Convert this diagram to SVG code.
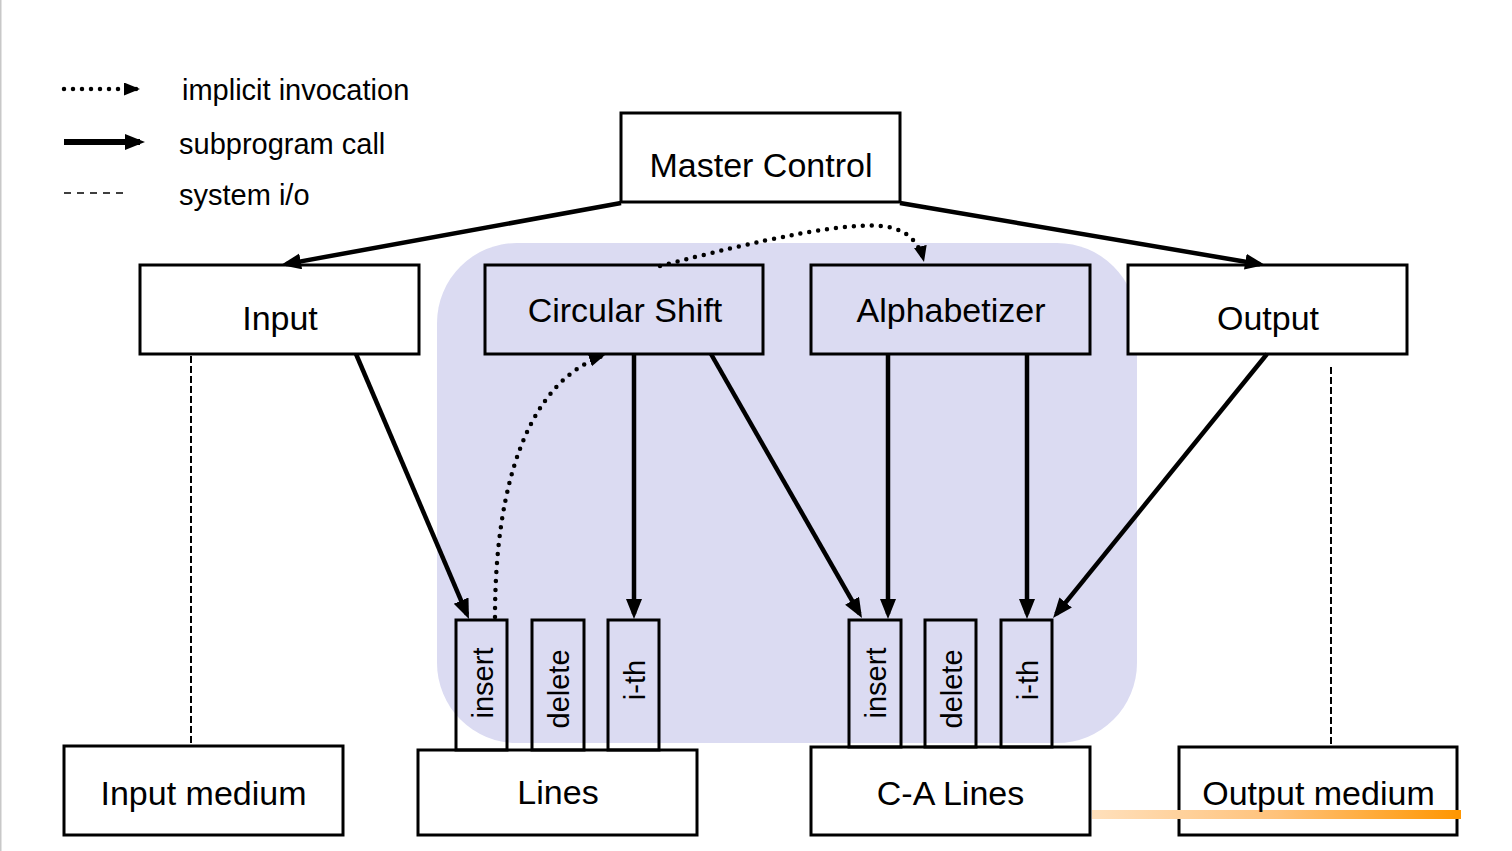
<svg xmlns="http://www.w3.org/2000/svg" width="1512" height="851" viewBox="0 0 1512 851">
<style>
.box{fill:#fff;stroke:#000;stroke-width:3}
.tbox{fill:none;stroke:#000;stroke-width:3}
.lbl{font-family:"Liberation Sans",Arial,sans-serif;font-size:34px;fill:#000;text-anchor:middle}
.rot{font-family:"Liberation Sans",Arial,sans-serif;font-size:29px;fill:#000;text-anchor:middle}
.leg{font-family:"Liberation Sans",Arial,sans-serif;font-size:29px;fill:#000}
.call{fill:none;stroke:#000;stroke-width:4.5;marker-end:url(#ah)}
.impl{fill:none;stroke:#000;stroke-width:4.5;stroke-linecap:round;stroke-dasharray:0 9;marker-end:url(#dh)}
.io{fill:none;stroke:#000;stroke-width:2;stroke-dasharray:7 3}
</style>
<defs>
<marker id="ah" markerUnits="userSpaceOnUse" markerWidth="22" markerHeight="18" refX="15" refY="8" orient="auto">
<path d="M0,0 L20,8 L0,16 z" fill="#000"/>
</marker>
<marker id="dh" markerUnits="userSpaceOnUse" markerWidth="18" markerHeight="15" refX="16" refY="6.5" orient="auto">
<path d="M0,0 L16,6.5 L0,13 z" fill="#000"/>
</marker>
<linearGradient id="og" x1="0" y1="0" x2="1" y2="0">
<stop offset="0" stop-color="#ffe0bc"/>
<stop offset="0.5" stop-color="#ffc27a"/>
<stop offset="1" stop-color="#ff9600"/>
</linearGradient>
</defs>
<rect x="0" y="0" width="1512" height="851" fill="#fff"/>
<rect x="0" y="0" width="1.5" height="851" fill="#c8c8c8"/>
<g id="legend">
<path d="M64,89 L140,89" class="impl"/>
<text x="182" y="100" class="leg">implicit invocation</text>
<path d="M64,142 L140,142" fill="none" stroke="#000" stroke-width="6" marker-end="url(#ah)"/>
<text x="179" y="154" class="leg">subprogram call</text>
<path d="M64,193 L128,193" fill="none" stroke="#000" stroke-width="1.5" stroke-dasharray="7 6"/>
<text x="179" y="205" class="leg">system i/o</text>
</g>
<g id="shared-region">
<rect x="437" y="243" width="700" height="500" rx="80" ry="80" fill="#dbdbf2"/>
</g>
<g id="master-control">
<rect x="621" y="113" width="279" height="89" class="box"/>
<text x="761" y="177" class="lbl">Master Control</text>
</g>
<g id="input">
<rect x="140" y="265" width="279" height="89" class="box"/>
<text x="280" y="330" class="lbl">Input</text>
</g>
<g id="circular-shift">
<rect x="485" y="265" width="278" height="89" class="tbox"/>
<text x="625" y="322" class="lbl">Circular Shift</text>
</g>
<g id="alphabetizer">
<rect x="811" y="265" width="279" height="89" class="tbox"/>
<text x="951" y="322" class="lbl">Alphabetizer</text>
</g>
<g id="output">
<rect x="1128" y="265" width="279" height="89" class="box"/>
<text x="1268" y="330" class="lbl">Output</text>
</g>
<g id="input-medium">
<rect x="64" y="746" width="279" height="89" class="box"/>
<text x="203.5" y="805" class="lbl">Input medium</text>
</g>
<g id="lines">
<rect x="418" y="750" width="279" height="85" class="box"/>
<text x="558" y="804" class="lbl">Lines</text>
</g>
<g id="lines-insert">
<rect x="456" y="620" width="51" height="130" class="tbox"/>
<text transform="translate(493,683) rotate(-90)" class="rot">insert</text>
</g>
<g id="lines-delete">
<rect x="532" y="620" width="52" height="130" class="tbox"/>
<text transform="translate(569,689) rotate(-90)" class="rot">delete</text>
</g>
<g id="lines-ith">
<rect x="608" y="620" width="51" height="130" class="tbox"/>
<text transform="translate(645,680) rotate(-90)" class="rot">i-th</text>
</g>
<g id="ca-lines">
<rect x="811" y="747" width="279" height="88" class="box"/>
<text x="950.5" y="805" class="lbl">C-A Lines</text>
</g>
<g id="ca-insert">
<rect x="849" y="620" width="52" height="127" class="tbox"/>
<text transform="translate(886,683) rotate(-90)" class="rot">insert</text>
</g>
<g id="ca-delete">
<rect x="925" y="620" width="51" height="127" class="tbox"/>
<text transform="translate(961.5,689) rotate(-90)" class="rot">delete</text>
</g>
<g id="ca-ith">
<rect x="1001" y="620" width="51" height="127" class="tbox"/>
<text transform="translate(1037.5,680) rotate(-90)" class="rot">i-th</text>
</g>
<g id="output-medium">
<rect x="1179" y="747" width="278" height="88" class="box"/>
<rect x="1092" y="810" width="369" height="9" fill="url(#og)"/>
<text x="1318.5" y="805" class="lbl">Output medium</text>
</g>
<g id="connectors">
<path d="M621,203 L285.9,264.1" class="call"/>
<path d="M900,203 L1260.1,264.2" class="call"/>
<path d="M356,354 L467,614.4" class="call"/>
<path d="M634,354 L634,614" class="call"/>
<path d="M711,354 L859.5,613.7" class="call"/>
<path d="M888,354 L888,614" class="call"/>
<path d="M1027,354 L1027,614" class="call"/>
<path d="M1267,354 L1056.2,614.1" class="call"/>
<path d="M495,617 C495,480 530,380 605,355" class="impl"/>
<path d="M660,266 C760,240 850,220 888,227 C910,231 920,245 924,262" class="impl"/>
<path d="M191,356 L191,746" class="io"/>
<path d="M1331,367 L1331,746" class="io"/>
</g>
</svg>
